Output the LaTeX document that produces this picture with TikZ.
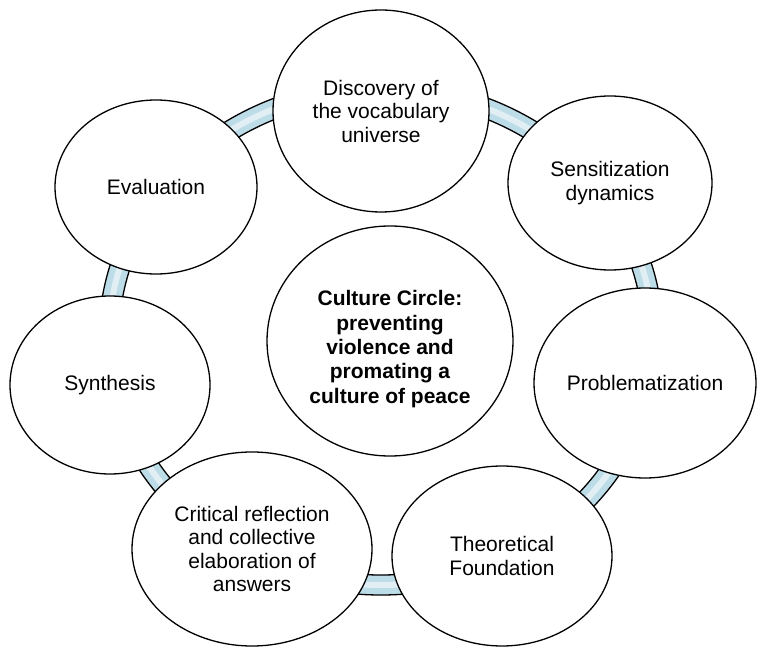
\documentclass[tikz,border=0pt]{standalone}
\usepackage{fontspec}
\setmainfont{Liberation Sans}
\usetikzlibrary{shapes.geometric}
\definecolor{ringblue}{RGB}{188,220,232}
\tikzset{
	stage/.style={ellipse, draw=black, line width=1.3pt, fill=white, inner sep=0pt, align=center, font=\fontsize{21}{23.5}\selectfont},
	hubtext/.style={align=center, inner sep=0pt, font=\fontsize{21}{24.3}\selectfont\bfseries},
}

\begin{document}
\begin{tikzpicture}[x=1pt, y=1pt]
		%%%%% START %%%%%
		\useasboundingbox (0, 0) rectangle (761, 649);
		
		% blue ring behind the stages
		\fill[ringblue, even odd rule] (381, 312) ellipse (282pt and 258pt) (381, 312) ellipse (262pt and 238pt);
		\draw[line width=6pt, color=white!55!ringblue] (381, 312) ellipse (272pt and 248pt);
		\draw[line width=1.3pt] (381, 312) ellipse (282pt and 258pt);
		\draw[line width=1.3pt] (381, 312) ellipse (262pt and 238pt);
		
		\node[stage, minimum width=216pt, minimum height=202pt] (disc) at (381, 538) {Discovery of\\the vocabulary\\universe};
		\node[stage, minimum width=204pt, minimum height=174pt] (sens) at (610, 466) {Sensitization\\dynamics};
		\node[stage, minimum width=222pt, minimum height=190pt] (prob) at (645, 266) {Problematization};
		\node[stage, minimum width=220pt, minimum height=180pt] (theo) at (502, 93) {Theoretical\\Foundation};
		\node[stage, minimum width=240pt, minimum height=194pt] (crit) at (252, 100) {Critical reflection\\and collective\\elaboration of\\answers};
		\node[stage, minimum width=200pt, minimum height=178pt] (synth) at (110, 264) {Synthesis};
		\node[stage, minimum width=202pt, minimum height=174pt] (evalu) at (156, 462) {Evaluation};
		
		% centre circle, its text sits a little low
		\node[stage, minimum width=246pt, minimum height=230pt] (core) at (390, 308) {};
		\node[hubtext] (coretext) at ([yshift=-8pt]core.center) {Culture Circle:\\preventing\\violence and\\promating a\\culture of peace};
		
		%%%%% END %%%%%
\end{tikzpicture}
\end{document}
